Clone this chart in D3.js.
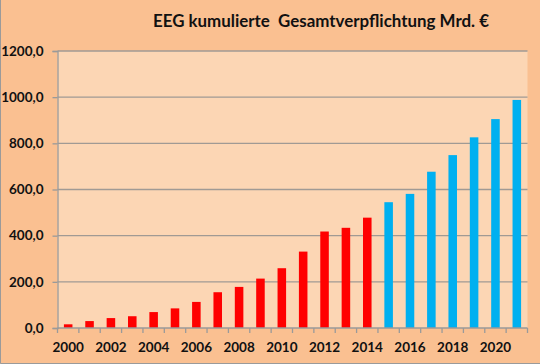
<!DOCTYPE html>
<html>
<head>
<meta charset="utf-8">
<script src="https://cdn.jsdelivr.net/npm/d3@7"></script>
<style>
  body { margin: 0; background: #fff; }
  text { font-family: Lato, "Open Sans", sans-serif; font-weight: bold; fill: #111; }
</style>
</head>
<body>
<div id="chart"></div>
<script>
// years and cumulative commitment (Mrd. €)
const years = d3.range(2000, 2022).map(String)
const values = [16, 30, 43, 51, 69, 85, 113, 155, 178, 214, 259, 331, 418, 434, 478, 545, 581, 677, 749, 826, 905, 988]
const lastActual = "2014" // red up to here, blue afterwards
const yTicks = [0, 200, 400, 600, 800, 1000, 1200]
const xLabels = years.filter((y, i) => i % 2 === 0)
const title = "EEG kumulierte\u00a0 Gesamtverpflichtung Mrd. €"

const W = 540, H = 364
const margin = { top: 51, right: 12.5, bottom: 36, left: 57.5 }
const width = W - margin.left - margin.right
const height = H - margin.top - margin.bottom

const svg = d3.select("#chart").append("svg")
    .attr("width", W)
    .attr("height", H)

// outer background + frame
svg.append("rect")
    .attr("width", W).attr("height", H)
    .attr("fill", "#fac091")
svg.append("path")
    .attr("d", `M0.5,0 V${H - 0.5} H${W}`)
    .attr("fill", "none")
    .attr("stroke", "#9a9a9a")

svg.append("text")
    .attr("x", 153)
    .attr("y", 27)
    .attr("font-size", 16.5)
    .attr("textLength", 336)
    .attr("lengthAdjust", "spacingAndGlyphs")
    .text(title)

const g = svg.append("g")
    .attr("transform", `translate(${margin.left},${margin.top})`)

g.append("rect")
    .attr("width", width).attr("height", height)
    .attr("fill", "#fcd6b4")

const x = d3.scaleBand()
    .domain(years)
    .range([0, width])
    .paddingInner(0.6)
    .paddingOuter(0.3)

const y = d3.scaleLinear()
    .domain([0, 1200])
    .range([height, 0])

// gridlines
g.selectAll(".grid")
    .data(yTicks.filter(d => d > 0))
    .join("line")
    .attr("class", "grid")
    .attr("x1", 0).attr("x2", width)
    .attr("y1", d => y(d)).attr("y2", d => y(d))
    .attr("stroke", "#a09a94")
    .attr("stroke-width", 1.3)

g.selectAll(".bar")
    .data(years)
    .join("rect")
    .attr("class", "bar")
    .attr("x", d => x(d))
    .attr("width", x.bandwidth())
    .attr("y", (d, i) => y(values[i]))
    .attr("height", (d, i) => y(0) - y(values[i]))
    .attr("fill", d => d <= lastActual ? "#ff0000" : "#00b0f0")

// y axis
const yAxis = g.append("g")
    .call(d3.axisLeft(y).tickValues(yTicks).tickSize(5).tickPadding(9)
        .tickFormat(d => d3.format(".1f")(d).replace(".", ",")))
yAxis.select(".domain").attr("stroke", "#9a9a9a").attr("stroke-width", 1.3)
yAxis.selectAll(".tick line").attr("stroke", "#9a9a9a").attr("stroke-width", 1.3)
yAxis.selectAll("text").attr("font-size", 13.5).attr("fill", "#111")

// x axis: ticks between categories, labels every other year
const xTickPos = d3.range(years.length + 1).map(i => i * width / years.length)
const xAxis = g.append("g")
    .attr("transform", `translate(0,${height})`)
xAxis.append("line")
    .attr("x1", 0).attr("x2", width)
    .attr("stroke", "#9a9a9a").attr("stroke-width", 1.3)
xAxis.selectAll(".xt")
    .data(xTickPos)
    .join("line")
    .attr("class", "xt")
    .attr("x1", d => d).attr("x2", d => d)
    .attr("y1", 0).attr("y2", 5)
    .attr("stroke", "#9a9a9a").attr("stroke-width", 1.3)
xAxis.selectAll(".xl")
    .data(xLabels)
    .join("text")
    .attr("class", "xl")
    .attr("x", d => x(d) + x.bandwidth() / 2)
    .attr("y", 24)
    .attr("text-anchor", "middle")
    .attr("font-size", 13.5)
    .text(d => d)
</script>
</body>
</html>
